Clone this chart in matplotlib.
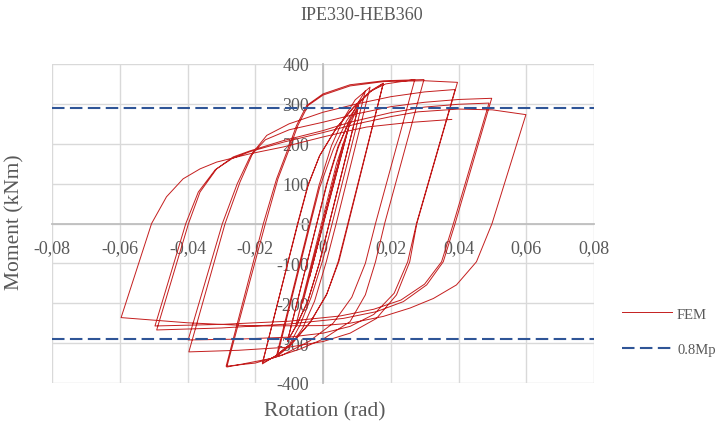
import matplotlib
matplotlib.use("Agg")
import matplotlib.pyplot as plt
import numpy as np

# ---------------- data (rotation in rad, moment in kNm) ----------------
rot_g1 = [0, 0.004, -0.004, 0.004, -0.004, 0.006, -0.006, 0.006, -0.006,
          0.008, -0.008, 0.008, -0.008]
mom_g1 = [0, 135, -135, 135, -135, 200, -200, 200, -200,
          255, -255, 255, -255]

rot_g2 = [0.004, 0.0075, 0.0105, -0.0011, -0.0045, -0.0078, -0.0105,
          0.0011, 0.0045, 0.0078, 0.0105, -0.0011, -0.0045, -0.0078, -0.0105]
mom_g2 = [150, 240, 295, -100, -195, -255, -295,
          100, 195, 255, 295, -100, -195, -255, -295]

rot_g3 = [-0.0018, 0.0012, 0.0045, 0.0075, 0.0105, 0.0125,
          0.0027, 0.0, -0.0035, -0.0068, -0.010, -0.0137,
          -0.0040, -0.0012, 0.0025, 0.006, 0.0095, 0.0139,
          0.0039, 0.001, -0.0025, -0.006, -0.0095, -0.0135]
mom_g3 = [0, 100, 190, 255, 305, 333,
          0, -90, -185, -255, -305, -331,
          0, 95, 195, 262, 310, 342,
          0, -95, -195, -262, -305, -333]

rot_g4 = [-0.0037, -0.001, 0.003, 0.007, 0.011, 0.0145, 0.0178,
          0.0073, 0.0045, 0.001, -0.004, -0.009, -0.014, -0.0179,
          -0.0075, -0.0045, -0.001, 0.004, 0.009, 0.0139, 0.0178,
          0.0075, 0.0047, 0.0012, -0.0035, -0.0085, -0.0135, -0.0179]
mom_g4 = [0, 90, 185, 258, 305, 335, 352,
          0, -95, -180, -250, -298, -332, -352,
          0, 95, 170, 240, 290, 330, 351,
          0, -95, -175, -245, -295, -330, -350]

rot_g5 = [-0.0074, -0.0044, -0.001, 0.004, 0.009, 0.014, 0.0185, 0.0271,
          0.0155, 0.0125, 0.0085, 0.003, -0.004, -0.012, -0.020, -0.0286,
          -0.0176, -0.0137, -0.0107, -0.0078, -0.0048, 0.0, 0.008, 0.018, 0.0298,
          0.0182, 0.0155, 0.0125, 0.008, 0.0, -0.0068, -0.015, -0.0284]
mom_g5 = [0, 95, 170, 240, 292, 332, 350, 361,
          0, -100, -185, -250, -295, -330, -350, -358,
          0, 112, 179, 246, 296, 325, 348, 358, 361,
          0, -96, -179, -246, -290, -315, -338, -360]

rot_g6 = [-0.0170, -0.0133, -0.0103, -0.0074, -0.0044, 0.0, 0.008, 0.018, 0.030, 0.0397,
          0.0277, 0.0256, 0.0217, 0.0158, 0.008, 0.0, -0.010, -0.025, -0.0396,
          -0.0289, -0.0245, -0.0206, -0.0166, -0.010, 0.0, 0.010, 0.020, 0.030, 0.039,
          0.0276, 0.025, 0.021, 0.015, 0.008, 0.0, -0.010, -0.025, -0.0398]
mom_g6 = [0, 112, 179, 246, 296, 322, 345, 356, 358, 354,
          0, -96, -179, -238, -275, -296, -310, -318, -322,
          0, 104, 179, 221, 250, 279, 300, 318, 330, 336,
          0, -96, -175, -228, -258, -275, -285, -290, -292]

rot_g7 = [-0.0297, -0.0253, -0.0214, -0.017, -0.010, 0.0, 0.010, 0.020, 0.030, 0.040, 0.0498,
          0.0390, 0.0355, 0.0306, 0.0237, 0.0158, 0.006, -0.010, -0.030, -0.0491,
          -0.0397, -0.0363, -0.0314, -0.0265, -0.0216, -0.0117, 0.0, 0.008, 0.020, 0.030, 0.040, 0.049,
          0.0385, 0.035, 0.030, 0.023, 0.015, 0.005, -0.010, -0.030, -0.0496]
mom_g7 = [0, 100, 170, 210, 235, 254, 275, 293, 304, 311, 314,
          0, -96, -154, -196, -221, -238, -252, -262, -267,
          0, 79, 137, 167, 182, 208, 233, 254, 278, 292, 299, 302,
          0, -96, -152, -192, -215, -232, -245, -253, -257]

rot_g8 = [-0.0405, -0.0368, -0.0318, -0.0268, -0.0216, -0.0117, 0.0, 0.010, 0.020, 0.028, 0.040, 0.050, 0.0599,
          0.0499, 0.0453, 0.0394, 0.0326, 0.0257, 0.0178, 0.008, 0.0, -0.020, -0.040, -0.0596,
          -0.0506, -0.0462, -0.0413, -0.0363, -0.0314, -0.0215, -0.0117, 0.0, 0.008, 0.0129, 0.025, 0.038]
mom_g8 = [0, 79, 135, 163, 180, 204, 228, 250, 268, 280, 287, 285, 273,
          0, -96, -154, -188, -212, -233, -250, -256, -257, -249, -236,
          0, 67, 112, 137, 154, 175, 192, 217, 233, 242, 253, 261]

mp08 = 290  # 0.8 Mp level (kNm)

x_ticks = [-0.08, -0.06, -0.04, -0.02, 0, 0.02, 0.04, 0.06, 0.08]
x_labels = ["-0,08", "-0,06", "-0,04", "-0,02", "0", "0,02", "0,04", "0,06", "0,08"]
y_ticks = [-400, -300, -200, -100, 0, 100, 200, 300, 400]
y_labels = ["-400", "-300", "-200", "-100", "0", "100", "200", "300", "400"]

title = "IPE330-HEB360"
xlabel = "Rotation (rad)"
ylabel = "Moment (kNm)"

# ---------------- figure ----------------
rot = np.concatenate([rot_g1, rot_g2, rot_g3, rot_g4, rot_g5, rot_g6, rot_g7, rot_g8])
mom = np.concatenate([mom_g1, mom_g2, mom_g3, mom_g4, mom_g5, mom_g6, mom_g7, mom_g8])

FONT = "Liberation Serif"
TXT = "#595959"
plt.rcParams["font.family"] = [FONT, "DejaVu Serif"]

W, H = 719, 431
fig = plt.figure(figsize=(W / 100, H / 100), dpi=100)
ax = fig.add_axes([52 / W, 1 - 384 / H, (594 - 52) / W, (384 - 65) / H])

ax.set_xlim(-0.08, 0.08)
ax.set_ylim(-400, 400)
ax.set_xticks(x_ticks)
ax.set_xticklabels(x_labels)
ax.set_yticks(y_ticks)
ax.set_yticklabels(y_labels)
ax.grid(True, color="#d9d9d9", linewidth=1.0, zorder=0)
ax.set_axisbelow(True)

for s in ("top", "right"):
    ax.spines[s].set_visible(False)
ax.spines["left"].set_position(("data", 0))
ax.spines["bottom"].set_position(("data", 0))
for s in ("left", "bottom"):
    ax.spines[s].set_color("#bfbfbf")
    ax.spines[s].set_linewidth(1.3)
    ax.spines[s].set_zorder(1)

ax.tick_params(axis="both", length=0, labelsize=13, labelcolor=TXT)
ax.tick_params(axis="x", pad=11)
ax.tick_params(axis="y", pad=10)

fem_line, = ax.plot(rot, mom, color="#C41E1E", linewidth=0.7, zorder=3,
                    label="FEM")
mp_line, = ax.plot([-0.08, 0.08], [mp08, mp08], color="#2F5597", linewidth=1.5,
                   dashes=(6, 2.6), zorder=4, label="0.8Mp")
ax.plot([-0.08, 0.08], [-mp08, -mp08], color="#2F5597", linewidth=1.5,
        dashes=(6, 2.6), zorder=4)

fig.text(362 / W, 1 - 15 / H, title, ha="center", va="center",
         fontsize=13, color=TXT)
fig.text(325 / W, 1 - 412 / H, xlabel, ha="center", va="center",
         fontsize=15.5, color=TXT)
fig.text(15 / W, 1 - 222 / H, ylabel, ha="center", va="center",
         rotation=90, fontsize=15.5, color=TXT)

leg = fig.legend(handles=[fem_line, mp_line], loc="upper left",
                 bbox_to_anchor=(618 / W, 1 - 304 / H),
                 frameon=False, fontsize=10.5, labelcolor=TXT,
                 borderaxespad=0, borderpad=0.3,
                 handlelength=3.4, handletextpad=0.35, labelspacing=1.55)

fig.savefig("out.png", dpi=100)
